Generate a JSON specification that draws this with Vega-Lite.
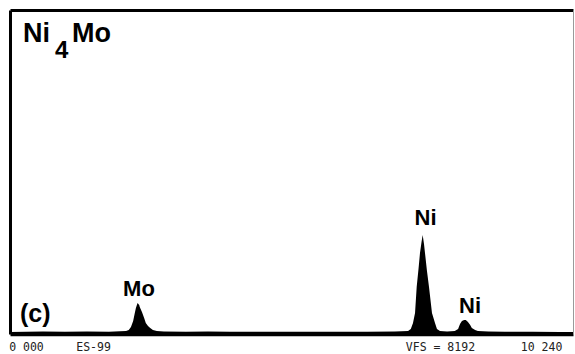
{
  "$schema": "https://vega.github.io/schema/vega-lite/v6.json",
  "width": 563,
  "height": 324,
  "autosize": {"type": "none"},
  "padding": {"left": 10, "top": 10, "right": 2, "bottom": 20},
  "background": "white",
  "config": {"view": {"stroke": null}},
  "datasets": {
    "spectrum": [
      {"energy": 0.00, "counts": 50}, {"energy": 0.30, "counts": 55}, {"energy": 0.60, "counts": 62},
      {"energy": 1.00, "counts": 58}, {"energy": 1.40, "counts": 65}, {"energy": 1.80, "counts": 60},
      {"energy": 2.00, "counts": 70}, {"energy": 2.11, "counts": 76}, {"energy": 2.16, "counts": 100},
      {"energy": 2.20, "counts": 177}, {"energy": 2.24, "counts": 329}, {"energy": 2.27, "counts": 531},
      {"energy": 2.29, "counts": 657}, {"energy": 2.32, "counts": 784}, {"energy": 2.35, "counts": 733},
      {"energy": 2.36, "counts": 683}, {"energy": 2.40, "counts": 556}, {"energy": 2.44, "counts": 404},
      {"energy": 2.47, "counts": 278}, {"energy": 2.51, "counts": 202}, {"energy": 2.55, "counts": 152},
      {"energy": 2.60, "counts": 101}, {"energy": 2.67, "counts": 76}, {"energy": 2.80, "counts": 66},
      {"energy": 3.20, "counts": 60}, {"energy": 3.60, "counts": 62}, {"energy": 4.00, "counts": 58},
      {"energy": 4.50, "counts": 60}, {"energy": 5.00, "counts": 55}, {"energy": 5.50, "counts": 58},
      {"energy": 6.00, "counts": 55}, {"energy": 6.50, "counts": 60}, {"energy": 7.00, "counts": 62},
      {"energy": 7.24, "counts": 76}, {"energy": 7.29, "counts": 126}, {"energy": 7.33, "counts": 278},
      {"energy": 7.367, "counts": 531}, {"energy": 7.397, "counts": 1188}, {"energy": 7.43, "counts": 1643},
      {"energy": 7.457, "counts": 2048}, {"energy": 7.485, "counts": 2326}, {"energy": 7.506, "counts": 2503},
      {"energy": 7.53, "counts": 2275}, {"energy": 7.548, "counts": 2048}, {"energy": 7.584, "counts": 1593},
      {"energy": 7.621, "counts": 1188}, {"energy": 7.675, "counts": 531}, {"energy": 7.73, "counts": 278},
      {"energy": 7.766, "counts": 126}, {"energy": 7.82, "counts": 76}, {"energy": 7.95, "counts": 66},
      {"energy": 8.09, "counts": 76}, {"energy": 8.15, "counts": 126}, {"energy": 8.185, "counts": 253},
      {"energy": 8.22, "counts": 329}, {"energy": 8.26, "counts": 354}, {"energy": 8.29, "counts": 354},
      {"energy": 8.33, "counts": 303}, {"energy": 8.37, "counts": 228}, {"energy": 8.40, "counts": 152},
      {"energy": 8.46, "counts": 101}, {"energy": 8.51, "counts": 76}, {"energy": 8.70, "counts": 62},
      {"energy": 9.00, "counts": 58}, {"energy": 9.50, "counts": 55}, {"energy": 10.00, "counts": 52},
      {"energy": 10.24, "counts": 50}
    ],
    "peaks": [
      {"energy": 2.346, "counts": 961, "text": "Mo"},
      {"energy": 7.557, "counts": 2756, "text": "Ni"},
      {"energy": 8.367, "counts": 531, "text": "Ni"}
    ],
    "panel": [
      {"energy": 0.182, "counts": 303, "text": "(c)"}
    ],
    "title": [
      {"energy": 0.236, "counts": 7383, "text": "Ni"},
      {"energy": 1.128, "counts": 7383, "text": "Mo"}
    ],
    "subscript": [
      {"energy": 0.818, "counts": 6978, "text": "4"}
    ]
  },
  "resolve": {"axis": {"x": "independent", "y": "independent"}},
  "layer": [
    {
      "data": {"name": "spectrum"},
      "mark": {"type": "area", "color": "black", "interpolate": "linear"},
      "encoding": {
        "x": {"field": "energy", "type": "quantitative",
          "scale": {"domain": [0, 10.24], "nice": false, "zero": false},
          "axis": {"orient": "bottom", "title": null, "grid": false, "ticks": false,
            "domain": true, "domainColor": "black", "domainWidth": 3.5,
            "values": [0.29, 1.51, 7.82, 9.66],
            "labelExpr": "datum.value < 1 ? '0 000' : datum.value < 5 ? 'ES-99' : datum.value < 9 ? 'VFS = 8192' : '10 240'",
            "labelFont": "DejaVu Sans Mono", "labelFontSize": 11.5, "labelColor": "#222",
            "labelPadding": 7, "labelOverlap": false, "labelFlush": false, "labelBound": false}},
        "y": {"field": "counts", "type": "quantitative",
          "scale": {"domain": [0, 8192], "nice": false},
          "axis": {"orient": "left", "title": null, "grid": false, "ticks": false, "labels": false,
            "domain": true, "domainColor": "black", "domainWidth": 3}}
      }
    },
    {
      "data": {"name": "title"},
      "mark": {"type": "text", "font": "Liberation Sans", "fontWeight": "bold", "fontSize": 27,
        "align": "left", "baseline": "alphabetic", "color": "black"},
      "encoding": {
        "x": {"field": "energy", "type": "quantitative",
          "scale": {"domain": [0, 10.24], "nice": false, "zero": false},
          "axis": {"orient": "top", "title": null, "grid": false, "ticks": false, "labels": false,
            "domain": true, "domainColor": "black", "domainWidth": 3}},
        "y": {"field": "counts", "type": "quantitative",
          "scale": {"domain": [0, 8192], "nice": false},
          "axis": {"orient": "right", "title": null, "grid": false, "ticks": false, "labels": false,
            "domain": true, "domainColor": "#9a9a9a", "domainWidth": 1}},
        "text": {"field": "text"}
      }
    },
    {
      "data": {"name": "subscript"},
      "mark": {"type": "text", "font": "Liberation Sans", "fontWeight": "bold", "fontSize": 24,
        "align": "left", "baseline": "alphabetic", "color": "black"},
      "encoding": {
        "x": {"field": "energy", "type": "quantitative", "axis": null},
        "y": {"field": "counts", "type": "quantitative", "axis": null},
        "text": {"field": "text"}
      }
    },
    {
      "data": {"name": "peaks"},
      "mark": {"type": "text", "font": "Liberation Sans", "fontWeight": "bold", "fontSize": 22,
        "align": "center", "baseline": "alphabetic", "color": "black"},
      "encoding": {
        "x": {"field": "energy", "type": "quantitative", "axis": null},
        "y": {"field": "counts", "type": "quantitative", "axis": null},
        "text": {"field": "text"}
      }
    },
    {
      "data": {"name": "panel"},
      "mark": {"type": "text", "font": "Liberation Sans", "fontWeight": "bold", "fontSize": 25,
        "align": "left", "baseline": "alphabetic", "color": "black"},
      "encoding": {
        "x": {"field": "energy", "type": "quantitative", "axis": null},
        "y": {"field": "counts", "type": "quantitative", "axis": null},
        "text": {"field": "text"}
      }
    }
  ]
}
